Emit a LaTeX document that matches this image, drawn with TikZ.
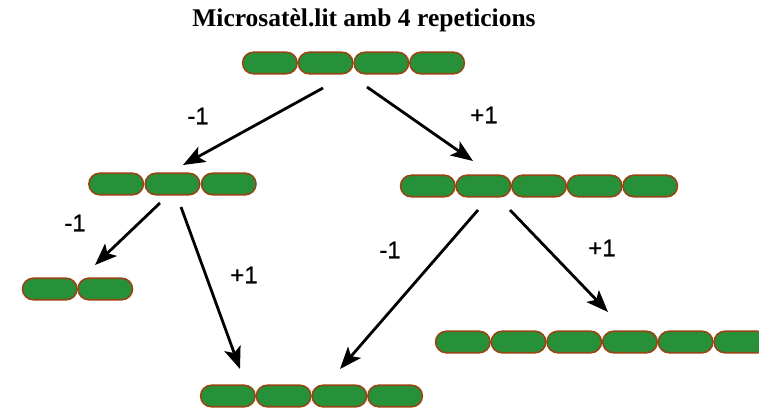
\documentclass[tikz,border=0pt]{standalone}
\usepackage{fontspec}
\setmainfont{Liberation Serif}
\newfontfamily\labelfont[FakeBold=0.7]{Liberation Sans}
\usetikzlibrary{arrows.meta,shapes.misc}
\definecolor{unitfill}{RGB}{38,145,56}
\definecolor{unitedge}{RGB}{150,70,20}
\tikzset{
  unitbox/.style={rounded rectangle, draw=unitedge, fill=unitfill, line width=1.6bp,
    minimum width=54.5bp, minimum height=21.5bp, inner sep=0pt},
  steparrow/.style={draw=black, line width=2.8bp, -{Stealth[length=22bp,width=17bp,inset=5bp]}},
  steplabel/.style={font=\labelfont\fontsize{24bp}{27bp}\selectfont, inner sep=0pt},
  titletext/.style={font=\bfseries\fontsize{25.5bp}{30bp}\selectfont, inner sep=0pt}
}
\newcommand{\chain}[5]{% name, left x, center y, count, unit width
  \foreach \k in {1,...,#4}{
    \node[unitbox] (#1u\k) at ({#2+(\k-0.5)*#5}, #3) {};
  }
}
\begin{document}
\begin{tikzpicture}[x=1bp,y=-1bp]
\clip (0,0) rectangle (759,413);
\fill[white] (0,0) rectangle (759,413);
\node[titletext] (title) at (364,20) {Microsatèl.lit amb 4 repeticions};
\chain{ca}{242}{63}{4}{55.75}
\chain{cb}{88}{184}{3}{56.3}
\chain{cc}{22}{289}{2}{55.5}
\chain{cd}{435}{342}{6}{55.7}
\chain{ce}{200}{396}{4}{55.75}
\chain{cf}{400}{186}{5}{55.6}
\coordinate (a1s) at (323,88);  \coordinate (a1e) at (183,165);
\coordinate (a2s) at (367,87);  \coordinate (a2e) at (473,161);
\coordinate (a3s) at (160,203); \coordinate (a3e) at (95,265);
\coordinate (a4s) at (181,207); \coordinate (a4e) at (240,369);
\coordinate (a5s) at (478,210); \coordinate (a5e) at (340,369);
\coordinate (a6s) at (510,210); \coordinate (a6e) at (608,312);
\draw[steparrow] (a1s) -- (a1e);
\draw[steparrow] (a2s) -- (a2e);
\draw[steparrow] (a3s) -- (a3e);
\draw[steparrow] (a4s) -- (a4e);
\draw[steparrow] (a5s) -- (a5e);
\draw[steparrow] (a6s) -- (a6e);
\node[steplabel] (l1) at (198,116) {-1};
\node[steplabel] (l2) at (484,115) {+1};
\node[steplabel] (l3) at (75,223) {-1};
\node[steplabel] (l4) at (244,275) {+1};
\node[steplabel] (l5) at (390,250) {-1};
\node[steplabel] (l6) at (602,248) {+1};
\end{tikzpicture}
\end{document}
